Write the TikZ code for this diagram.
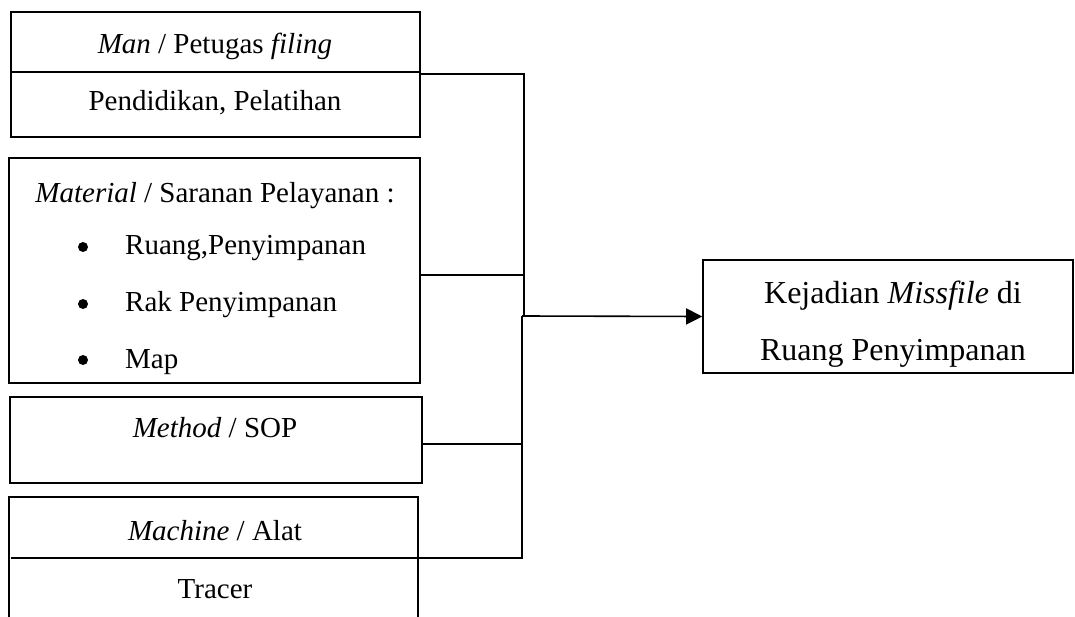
\documentclass[tikz,border=0pt]{standalone}
\usepackage{fontspec}
\setmainfont{Liberation Serif}
\usetikzlibrary{arrows.meta}
\begin{document}
\begin{tikzpicture}[x=1pt,y=-1pt,
  frame/.style={draw=black, line width=1.6pt},
  conn/.style={draw=black, line width=1.6pt},
  lbl/.style={font=\fontsize{29}{34}\selectfont, inner sep=0pt, anchor=base},
  lblbig/.style={font=\fontsize{32}{38}\selectfont, inner sep=0pt, anchor=base},
  lblL/.style={font=\fontsize{29}{34}\selectfont, inner sep=0pt, anchor=base west},
  dot/.style={circle, fill=black, inner sep=0pt, minimum size=10pt}]
\useasboundingbox (0,0) rectangle (1075,617);
% boxes
\draw[frame] (11,12) rectangle (420,137);
\draw[frame] (11,72) -- (420,72);
\draw[frame] (9,158) rectangle (420,383);
\draw[frame] (10,397) rectangle (422,483);
\draw[frame] (9,625) -- (9,497) -- (418,497) -- (418,625);
\draw[frame] (11,558) -- (424,558);
\node[frame, minimum width=370pt, minimum height=113pt, inner sep=0pt] (target) at (888,316.5) {};
% texts
\node[lbl] (t1) at (215,54) {\textit{Man} / Petugas \textit{filing}};
\node[lbl] (t2) at (215,111) {Pendidikan, Pelatihan};
\node[lbl] (t3) at (215,203) {\textit{Material} / Saranan Pelayanan :};
\node[dot] (b1) at (83,247) {};
\node[dot] (b2) at (83,304) {};
\node[dot] (b3) at (83,360) {};
\node[lblL] (i1) at (125,255) {Ruang,Penyimpanan};
\node[lblL] (i2) at (125,312) {Rak Penyimpanan};
\node[lblL] (i3) at (125,368) {Map};
\node[lbl] (t4) at (215,437) {\textit{Method} / SOP};
\node[lbl] (t5) at (215,540) {\textit{Machine} / Alat};
\node[lbl] (t6) at (215,598) {Tracer};
\node[lblbig] (k1) at (893,303) {Kejadian \textit{Missfile} di};
\node[lblbig] (k2) at (893,360) {Ruang Penyimpanan};
% connectors
\coordinate (c1) at (420,74);
\coordinate (c2) at (420,275);
\coordinate (c3) at (422,444);
\coordinate (c4) at (424,558);
\coordinate (j1) at (524,74);
\coordinate (j2) at (524,275);
\coordinate (jt) at (524,316);
\coordinate (jm) at (522,316);
\coordinate (j3) at (522,444);
\coordinate (j4) at (522,558);
\draw[conn] (c1) -- (j1) -- (jt);
\draw[conn] (jm) -- (j4) -- (c4);
\draw[conn] (c2) -- (j2);
\draw[conn] (c3) -- (j3);
\draw[conn, -{Triangle[length=16pt,width=16pt]}] (jm) -- (target.west);
\end{tikzpicture}
\end{document}
